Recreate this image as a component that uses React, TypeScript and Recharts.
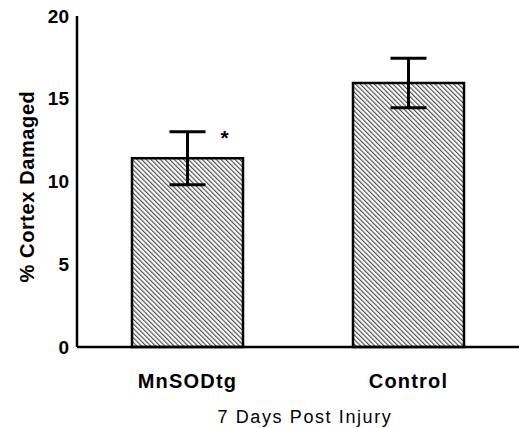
import { Bar, BarChart, ErrorBar, LabelList, XAxis, YAxis, Label } from "recharts";

const groups = ["MnSODtg", "Control"];
const damage = [11.4, 15.95];
const damageErr = [1.6, 1.5];
const marks = ["*", ""];
const yTicks = [0, 5, 10, 15, 20];

const data = groups.map((name, i) => ({
  name,
  damage: damage[i],
  err: damageErr[i],
  mark: marks[i],
}));

const font = "Arial, 'Liberation Sans', Helvetica, sans-serif";

const renderMark = (props: any) => {
  const { x, y, width, value } = props;
  if (!value) return null;
  return (
    <text
      x={Number(x) + Number(width) / 2 + 37}
      y={Number(y) - 13}
      textAnchor="middle"
      fontFamily={font}
      fontWeight="bold"
      fontSize={21}
      fill="#000"
    >
      {value}
    </text>
  );
};

const renderYLabel = (props: any) => {
  const vb = props.viewBox;
  const cx = 27;
  const cy = vb.y + vb.height / 2 + 5;
  return (
    <text
      x={cx}
      y={cy}
      transform={`rotate(-90, ${cx}, ${cy})`}
      textAnchor="middle"
      dominantBaseline="central"
      fontFamily={font}
      fontWeight="bold"
      fontSize={20}
      letterSpacing={0.6}
      fill="#000"
    >
      % Cortex Damaged
    </text>
  );
};

export default function App() {
  return (
    <div style={{ position: "absolute", left: 0, top: 0, background: "#fff" }}>
      <BarChart
        width={519}
        height={428}
        data={data}
        margin={{ top: 16, right: 0, bottom: 0, left: 0 }}
        barSize={111}
      >
        <defs>
          <pattern
            id="hatch"
            width="3.3"
            height="3.3"
            patternUnits="userSpaceOnUse"
            patternTransform="rotate(-45)"
          >
            <line x1="0.6" y1="0" x2="0.6" y2="3.3" stroke="#333" strokeWidth="1" />
          </pattern>
        </defs>
        <XAxis
          dataKey="name"
          height={81}
          axisLine={{ stroke: "#000", strokeWidth: 2.5 }}
          tickLine={false}
          tickSize={6}
          tickMargin={21}
          tick={{
            fill: "#000",
            fontFamily: font,
            fontWeight: "bold",
            fontSize: 20,
            letterSpacing: 1.2,
          }}
        >
          <Label
            value="7 Days Post Injury"
            position="insideBottom"
            offset={5}
            dx={7}
            fill="#000"
            fontFamily={font}
            fontSize={18}
            letterSpacing={1.6}
          />
        </XAxis>
        <YAxis
          width={77}
          domain={[0, 20]}
          ticks={yTicks}
          interval={0}
          axisLine={{ stroke: "#000", strokeWidth: 2.5 }}
          tickLine={false}
          tickSize={6}
          tickMargin={2}
          tick={{
            fill: "#000",
            fontFamily: font,
            fontWeight: "bold",
            fontSize: 19,
          }}
          label={renderYLabel}
        />
        <Bar
          dataKey="damage"
          fill="url(#hatch)"
          stroke="#000"
          strokeWidth={2.5}
          isAnimationActive={false}
        >
          <ErrorBar dataKey="err" width={18} stroke="#000" strokeWidth={3} />
          <LabelList dataKey="mark" content={renderMark} />
        </Bar>
      </BarChart>
    </div>
  );
}
